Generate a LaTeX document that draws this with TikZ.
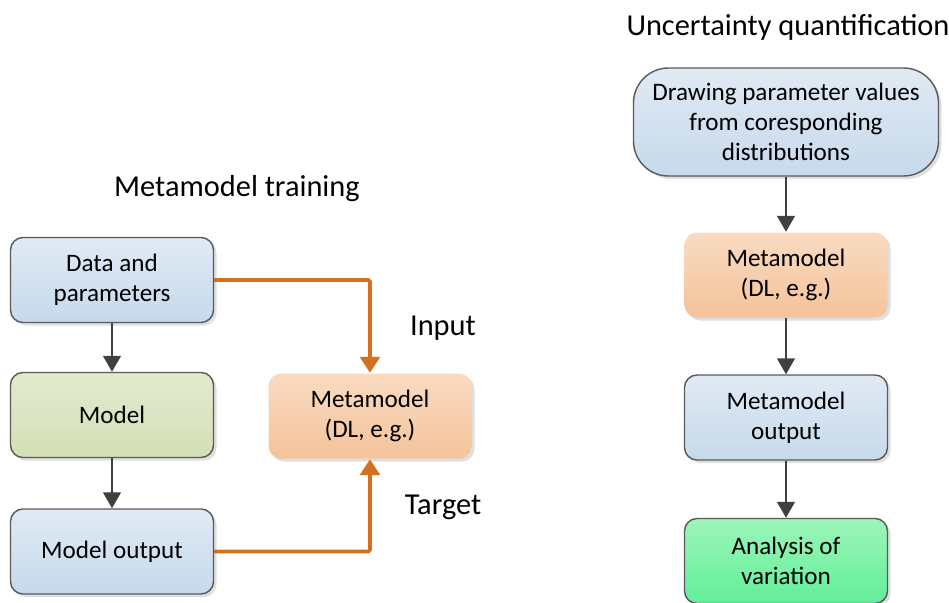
\documentclass[tikz,border=0pt]{standalone}
\usepackage{fontspec}
\setmainfont{Carlito}
\usetikzlibrary{arrows.meta,shadows}
\definecolor{boxline}{HTML}{5A5A5A}
\definecolor{blueA}{HTML}{E0EAF4}
\definecolor{blueB}{HTML}{C6D9EB}
\definecolor{oliveA}{HTML}{E2EBCF}
\definecolor{oliveB}{HTML}{D3DFB6}
\definecolor{peachA}{HTML}{F9DBC2}
\definecolor{peachB}{HTML}{F4C39A}
\definecolor{mintA}{HTML}{9CF6B8}
\definecolor{mintB}{HTML}{62EE9A}
\definecolor{flow}{HTML}{D5701F}
\definecolor{darkarrow}{HTML}{404040}
\tikzset{
  box/.style={rectangle,rounded corners=0.25cm,draw=boxline,line width=0.8pt,
    minimum width=4.06cm,minimum height=1.7cm,align=center,font=\fontsize{14.3}{17.2}\selectfont,
    drop shadow={shadow xshift=0.06cm,shadow yshift=-0.06cm,opacity=0.25}},
  bluebox/.style={box,top color=blueA,bottom color=blueB},
  olivebox/.style={box,top color=oliveA,bottom color=oliveB},
  peachbox/.style={box,draw=none,top color=peachA,bottom color=peachB},
  mintbox/.style={box,top color=mintA,bottom color=mintB},
  down/.style={darkarrow,line width=1.2pt,-{Triangle[width=10pt,length=9pt]}},
  feed/.style={flow,line width=2.2pt,-{Triangle[width=11pt,length=9pt]}},
  title/.style={font=\fontsize{17.3}{20}\selectfont}
}
\begin{document}
\begin{tikzpicture}
  \useasboundingbox (0,0) rectangle (18.98,-12.06);
  % metamodel training
  \node[title] (ttrain) at (4.74,-3.78) {Metamodel training};
  \node[bluebox] (data) at (2.24,-5.6) {Data and\\parameters};
  \node[olivebox] (model) at (2.24,-8.3) {Model};
  \node[bluebox] (mout) at (2.24,-11.03) {Model output};
  \node[peachbox] (meta) at (7.4,-8.32) {Metamodel\\(DL, e.g.)};
  \draw[down] (data) -- (model);
  \draw[down] (model) -- (mout);
  \draw[feed,rounded corners=1pt] (data.east) -| (meta.north);
  \draw[feed,rounded corners=1pt] (mout.east) -| (meta.south);
  \node[title] (lin) at (8.86,-6.56) {Input};
  \node[title] (ltar) at (8.86,-10.14) {Target};
  % uncertainty quantification
  \node[title] (tunc) at (15.76,-0.54) {Uncertainty quantification};
  \node[bluebox,rounded corners=0.7cm,minimum width=6.1cm,minimum height=2.16cm] (sample) at (15.72,-2.44)
    {Drawing parameter values\\from coresponding\\distributions};
  \node[peachbox] (meta2) at (15.72,-5.5) {Metamodel\\(DL, e.g.)};
  \node[bluebox] (metaout) at (15.72,-8.35) {Metamodel\\output};
  \node[mintbox] (anova) at (15.72,-11.22) {Analysis of\\variation};
  \draw[down] (sample) -- (meta2);
  \draw[down] (meta2) -- (metaout);
  \draw[down] (metaout) -- (anova);
\end{tikzpicture}
\end{document}
